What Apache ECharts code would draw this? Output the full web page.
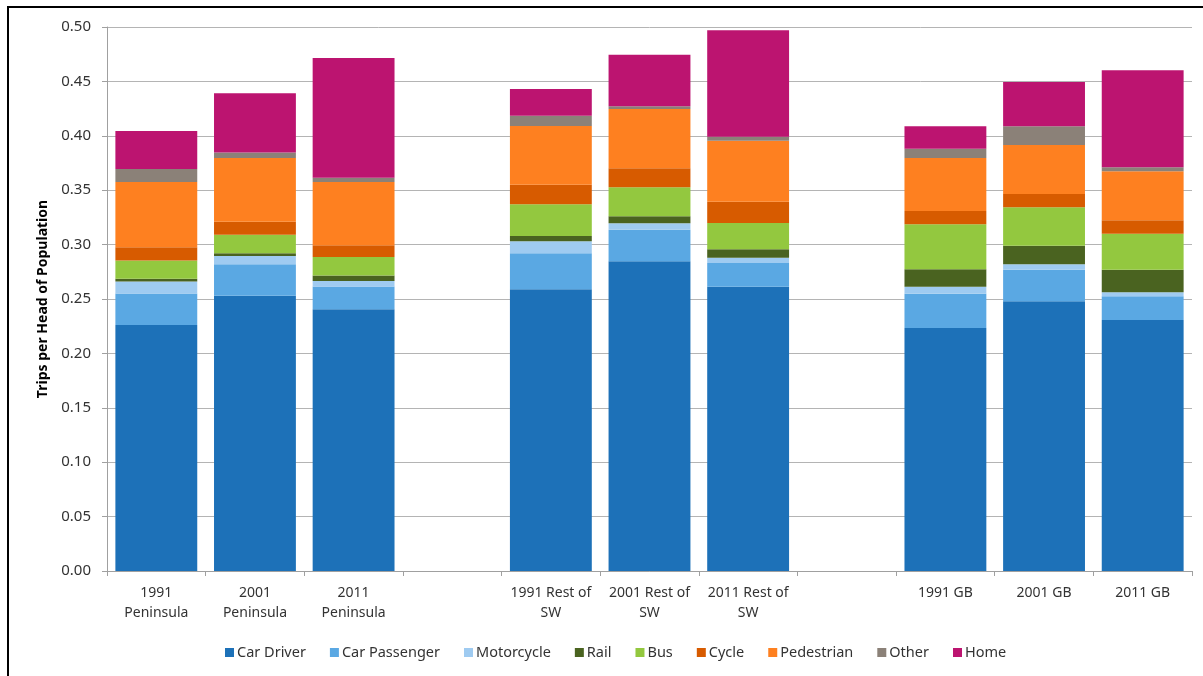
<!DOCTYPE html>
<html>
<head>
<meta charset="utf-8">
<script src="https://cdn.jsdelivr.net/npm/echarts@6/dist/echarts.min.js"></script>
<style>
html,body{margin:0;padding:0;background:#fff;}
#chart{position:absolute;left:0;top:0;width:1203px;height:676px;}
#frame{position:absolute;left:7px;top:6px;width:1200px;height:680px;border-left:2px solid #000;border-top:2px solid #000;pointer-events:none;}
</style>
</head>
<body>
<div id="chart"></div>
<div id="frame"></div>
<script>
var categories = ['1991\nPeninsula', '2001\nPeninsula', '2011\nPeninsula', '', '1991 Rest of\nSW', '2001 Rest of\nSW', '2011 Rest of\nSW', '', '1991 GB', '2001 GB', '2011 GB'];
var yTicks = [0, 0.05, 0.10, 0.15, 0.20, 0.25, 0.30, 0.35, 0.40, 0.45, 0.50];

var carDriver    = [0.226, 0.253, 0.2405, null, 0.259, 0.2846, 0.2613, null, 0.2233, 0.2479, 0.2307];
var carPassenger = [0.029, 0.029, 0.021, null, 0.033, 0.029, 0.0218, null, 0.0316, 0.029, 0.0218];
var motorcycle   = [0.011, 0.0076, 0.005, null, 0.011, 0.006, 0.0049, null, 0.0064, 0.005, 0.0037];
var rail         = [0.0025, 0.0025, 0.005, null, 0.005, 0.0064, 0.0077, null, 0.016, 0.0171, 0.0207];
var bus          = [0.017, 0.017, 0.017, null, 0.029, 0.0266, 0.0242, null, 0.0414, 0.0353, 0.0331];
var cycle        = [0.012, 0.012, 0.011, null, 0.018, 0.0175, 0.0195, null, 0.0122, 0.0122, 0.0123];
var pedestrian   = [0.060, 0.0585, 0.058, null, 0.054, 0.0545, 0.0561, null, 0.0487, 0.045, 0.0451];
var other        = [0.012, 0.005, 0.004, null, 0.0095, 0.0025, 0.0037, null, 0.0086, 0.0172, 0.0036];
var home         = [0.035, 0.0545, 0.110, null, 0.0245, 0.0475, 0.0978, null, 0.0205, 0.0407, 0.0892];

var seriesNames = ['Car Driver', 'Car Passenger', 'Motorcycle', 'Rail', 'Bus', 'Cycle', 'Pedestrian', 'Other', 'Home'];
var seriesData = [carDriver, carPassenger, motorcycle, rail, bus, cycle, pedestrian, other, home];
var colors = ['#1D71B8', '#5AA8E3', '#9FCBF1', '#4A6320', '#93C83F', '#D75B00', '#FE8020', '#8B8178', '#BC1470'];

var font = 'Noto Sans';
var chart = echarts.init(document.getElementById('chart'), null, {renderer: 'canvas'});
var option = {
  animation: false,
  backgroundColor: '#fff',
  color: colors,
  graphic: [{
    type: 'text', x: 12, y: 0,
    style: {text: 'Figure 5: Changes in Trip Generation Rates per Head, 1991 - 2011', fill: '#1F6FB5',
      font: 'bold 17px "Noto Sans"', verticalAlign: 'bottom'}
  }],
  grid: {left: 107, right: 11, top: 27, bottom: 105, containLabel: false},
  legend: {
    data: seriesNames,
    bottom: 11,
    left: 220,
    itemWidth: 9, itemHeight: 9, itemGap: 24,
    icon: 'rect',
    textStyle: {fontFamily: font, fontSize: 14.5, color: '#333', padding: [0, 0, 0, -2]}
  },
  xAxis: {
    type: 'category',
    data: categories,
    axisLine: {lineStyle: {color: '#a0a0a0', width: 1}},
    axisTick: {show: true, length: 5, lineStyle: {color: '#a0a0a0'}},
    axisLabel: {interval: 0, fontFamily: font, fontSize: 14, color: '#333', lineHeight: 20, margin: 12}
  },
  yAxis: {
    type: 'value',
    min: yTicks[0], max: yTicks[yTicks.length - 1], interval: 0.05,
    name: 'Trips per Head of Population',
    nameLocation: 'middle', nameGap: 56, nameRotate: 90,
    nameTextStyle: {fontFamily: font, fontSize: 14, fontWeight: 'bold', color: '#000'},
    axisLine: {show: true, lineStyle: {color: '#a0a0a0'}},
    axisTick: {show: true, length: 5, inside: false, lineStyle: {color: '#a0a0a0'}},
    splitLine: {lineStyle: {color: '#b4b4b4', width: 1}},
    axisLabel: {fontFamily: font, fontSize: 15, color: '#333', margin: 16,
      formatter: function (v) { return v.toFixed(2); }}
  },
  series: seriesNames.map(function (n, i) {
    return {
      name: n, type: 'bar', stack: 'total',
      barCategoryGap: '17%',
      data: seriesData[i],
      itemStyle: {color: colors[i]}
    };
  })
};
chart.setOption(option);
</script>
</body>
</html>
